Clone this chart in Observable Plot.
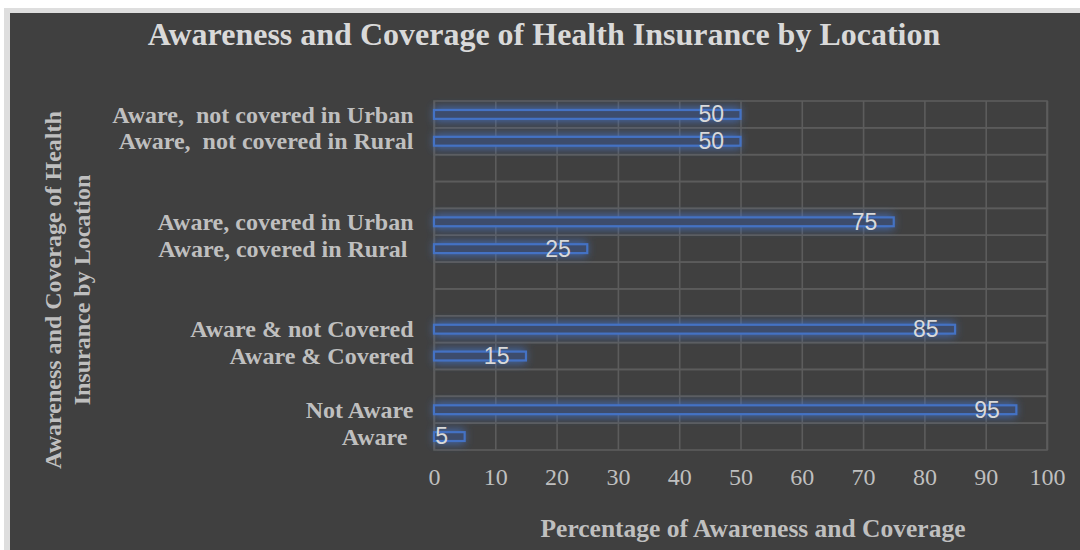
<!DOCTYPE html>
<html>
<head>
<meta charset="utf-8">
<script src="https://cdn.jsdelivr.net/npm/d3@7"></script>
<script src="https://cdn.jsdelivr.net/npm/@observablehq/plot@0.6"></script>
<style>
html, body { margin: 0; padding: 0; background: #ffffff; width: 1080px; height: 550px; overflow: hidden; }
#frame { position: absolute; left: 4px; top: 8px; width: 1100px; height: 580px; background: #404040;
  border-left: 6px solid #dedede; border-top: 5px solid #dedede; box-sizing: border-box; }
#title { position: absolute; left: 4px; top: 18px; width: 1080px; text-align: center;
  font: bold 32px "Liberation Serif", "Times New Roman", serif; line-height: 32px; color: #d9d9d9; }
#chart { position: absolute; left: 0; top: 0; }
#chart svg { white-space: pre; }
</style>
</head>
<body>
<div id="frame"></div>
<div id="title">Awareness and Coverage of Health Insurance by Location</div>
<div id="chart"></div>
<script>
// ---- data ----
const categories = [
  "Aware,  not covered in Urban",
  "Aware,  not covered in Rural",
  "Aware, covered in Urban",
  "Aware, covered in Rural ",
  "Aware & not Covered",
  "Aware & Covered",
  "Not Aware",
  "Aware "
];
const values = [50, 50, 75, 25, 85, 15, 95, 5];
// top-to-bottom row order, with empty spacer rows between the groups
const rowOrder = [
  "Aware,  not covered in Urban",
  "Aware,  not covered in Rural",
  "gap1", "gap2",
  "Aware, covered in Urban",
  "Aware, covered in Rural ",
  "gap3", "gap4",
  "Aware & not Covered",
  "Aware & Covered",
  "gap5",
  "Not Aware",
  "Aware "
];
const xDomain = [0, 100];
const xTicks = [0, 10, 20, 30, 40, 50, 60, 70, 80, 90, 100];
const xLabel = "Percentage of Awareness and Coverage";
const yLabel = "Awareness and Coverage of Health\nInsurance by Location";

const data = categories.map((c, i) => ({cat: c, value: values[i]}));
const isGap = d => d.startsWith("gap");

const blue = "#4472c4";
const gridColor = "#5c5c5c";
const serif = "'Liberation Serif', 'Times New Roman', serif";
const sans = "'Liberation Sans', Arial, sans-serif";

const chart = Plot.plot({
  width: 1080,
  height: 550,
  marginLeft: 434,
  marginRight: 33,
  marginTop: 101,
  marginBottom: 100,
  style: {background: "transparent", color: "#bfbfbf", fontFamily: serif, overflow: "visible"},
  x: {domain: xDomain, ticks: xTicks, tickSize: 0, tickPadding: 17, label: null},
  y: {domain: rowOrder, padding: 0, round: false, tickSize: 0, tickPadding: 21, label: null,
      tickFormat: d => isGap(d) ? "" : d},
  marks: [
    // horizontal grid: one outlined cell per row
    Plot.barX(rowOrder, {y: d => d, x1: xDomain[0], x2: xDomain[1], fill: "none",
      stroke: gridColor, strokeWidth: 1.6}),
    // vertical grid
    Plot.ruleX(xTicks, {stroke: gridColor, strokeWidth: 1.6}),
    // glow under the bars
    Plot.barX(data, {x: "value", y: "cat", insetTop: 6, insetBottom: 6,
      fill: blue, fillOpacity: 0.75, ariaDescription: "glow"}),
    // bars
    Plot.barX(data, {x: "value", y: "cat", insetTop: 9, insetBottom: 9,
      fill: "#3d4c6c", fillOpacity: 1, stroke: blue, strokeWidth: 2.2}),
    // value labels
    Plot.text(data, {x: "value", y: "cat", text: d => String(d.value), textAnchor: "end",
      dx: -17, fill: "#d9d9d9", fontSize: 23, fontFamily: sans}),
    // y axis title
    Plot.text([yLabel], {frameAnchor: "left", text: d => d, rotate: -90, dx: -368, dy: 14,
      textAnchor: "middle", lineHeight: 1.18, fontSize: 24, fontWeight: "bold",
      fontFamily: serif, fill: "#bfbfbf"}),
    // x axis title
    Plot.text([xLabel], {frameAnchor: "bottom", text: d => d, dx: 12, dy: 86,
      textAnchor: "middle", fontSize: 25.5, fontWeight: "bold", fontFamily: serif, fill: "#bfbfbf"})
  ]
});

document.getElementById("chart").appendChild(chart);

// style the axis tick labels
const svg = d3.select(chart.tagName.toLowerCase() === "svg" ? chart : chart.querySelector("svg"));
svg.selectAll('[aria-label^="y-axis"] text')
  .attr("font-size", 24).attr("font-weight", "bold").attr("font-family", serif).attr("fill", "#bfbfbf");
svg.selectAll('[aria-label^="x-axis"] text')
  .attr("font-size", 24).attr("font-family", serif).attr("fill", "#bfbfbf");

// glow filter
const defs = svg.insert("defs", ":first-child");
const f = defs.append("filter").attr("id", "barGlow")
  .attr("x", "-20%").attr("y", "-200%").attr("width", "140%").attr("height", "500%");
f.append("feGaussianBlur").attr("in", "SourceGraphic").attr("stdDeviation", 4);
svg.selectAll('[aria-description="glow"]').attr("filter", "url(#barGlow)");
</script>
</body>
</html>
